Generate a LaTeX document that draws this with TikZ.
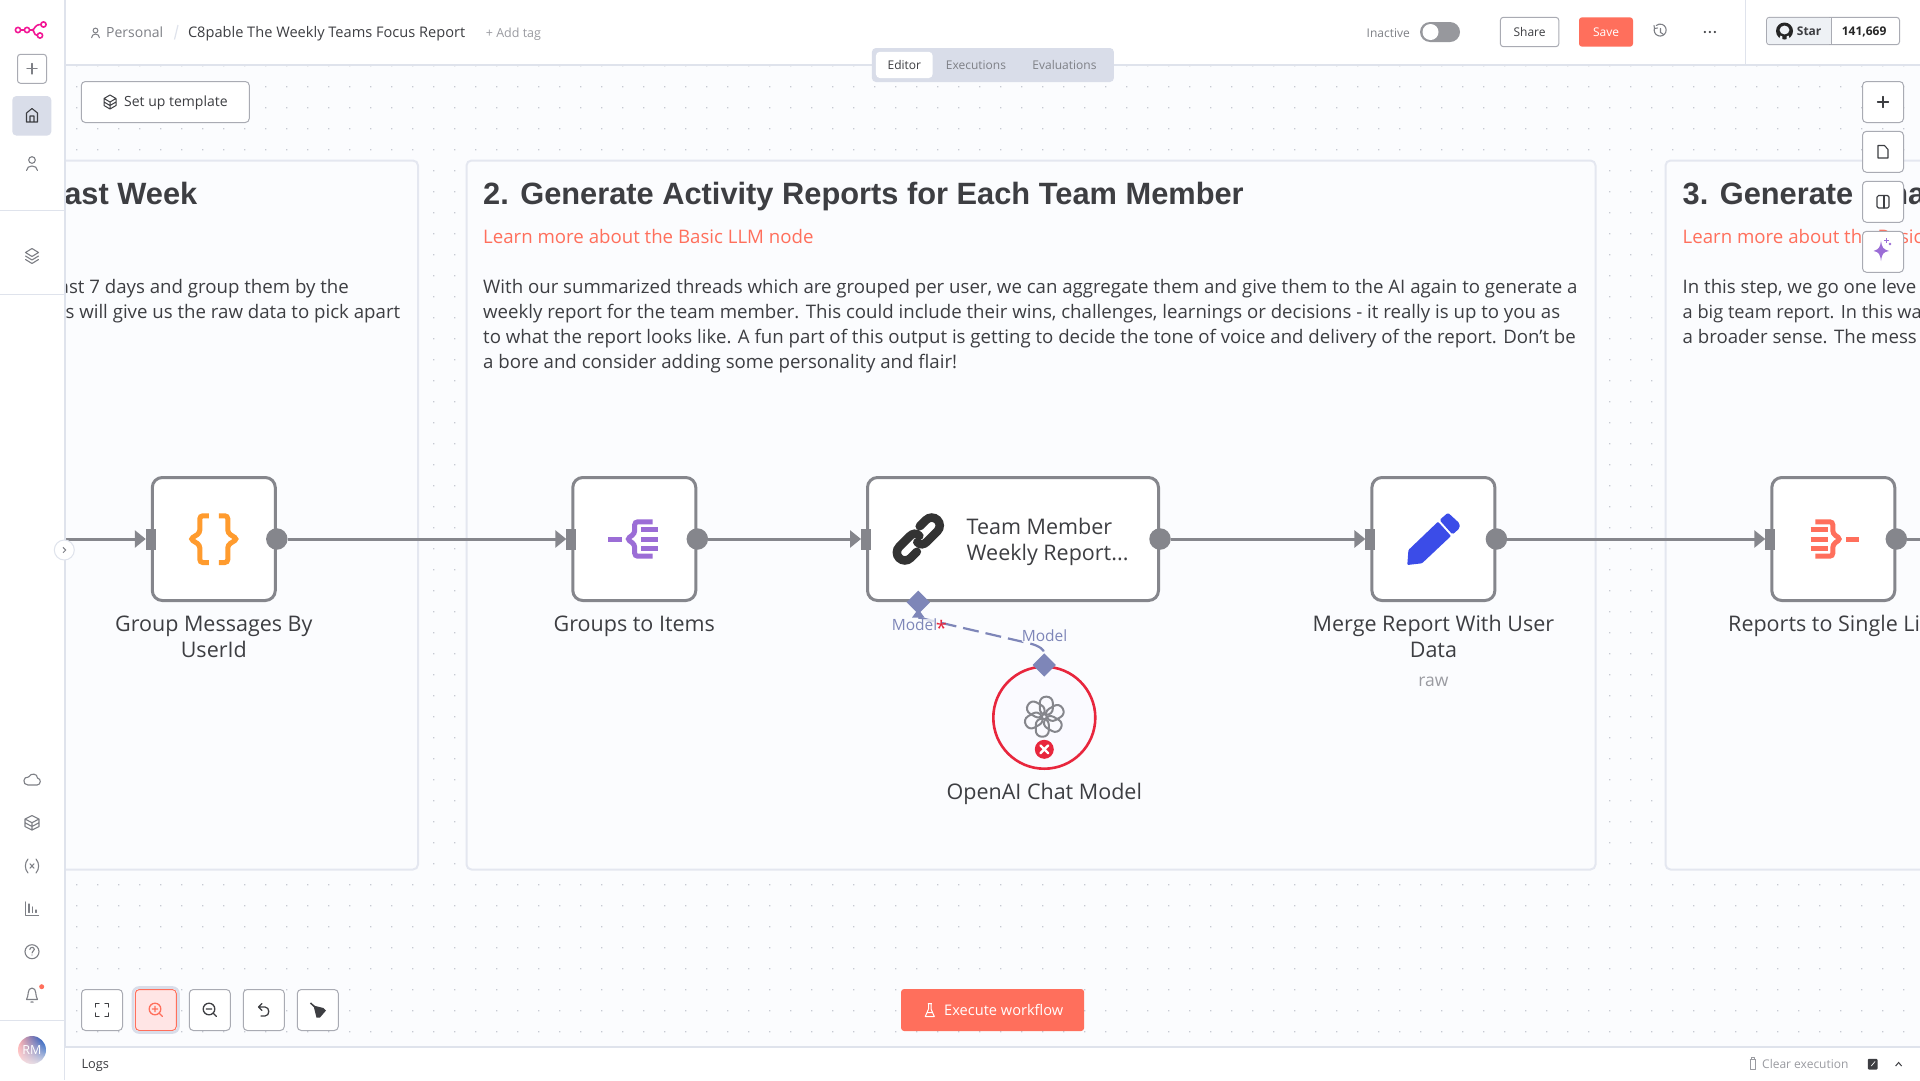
\documentclass[tikz,border=0pt]{standalone}
\usepackage{fontspec}
\setmainfont{Open Sans}
\newfontfamily\headfont{Liberation Sans}
\usetikzlibrary{arrows.meta,shapes.geometric,shadings}
\definecolor{canvascol}{HTML}{FBFCFE}
\definecolor{dotcol}{HTML}{C6C9D2}
\definecolor{framecol}{HTML}{DFE3EC}
\definecolor{cardline}{HTML}{E4E7F0}
\definecolor{inkcol}{HTML}{3D3E42}
\definecolor{softcol}{HTML}{7E8086}
\definecolor{faintcol}{HTML}{9A9BA1}
\definecolor{wirecol}{HTML}{85868C}
\definecolor{btnline}{HTML}{A9ABB3}
\definecolor{corecol}{HTML}{FF6F5C}
\definecolor{tabcol}{HTML}{D9DDE9}
\definecolor{modelcol}{HTML}{7E86B8}
\definecolor{errcol}{HTML}{E8263D}
\definecolor{bracecol}{HTML}{FF9B2E}
\definecolor{itemscol}{HTML}{9B6DD6}
\definecolor{pencol}{HTML}{3B4CE8}
\definecolor{starcol}{HTML}{EEF1F5}
\newcommand{\fsz}[1]{\fontsize{#1}{#1}\selectfont}
\tikzset{
  txt/.style={inner sep=0pt,text=inkcol},
  lowtxt/.style={yshift=-2pt},
  cardtitle/.style={txt,anchor=mid west,yshift=-9pt,font=\headfont\fsz{30.8}\bfseries},
  cardlink/.style={txt,anchor=mid west,yshift=-4.3pt,text=corecol,font=\fsz{18.65}},
  cardtext/.style={txt,anchor=mid west,yshift=-4.3pt,font=\fsz{18.65}},
  nodelabel/.style={txt,anchor=mid,yshift=-4.9pt,font=\fsz{21.5}},
  flowbox/.style={draw=wirecol,fill=white,line width=3pt,rounded corners=10pt,minimum width=123pt,minimum height=123pt,inner sep=0pt},
  outdot/.style={circle,fill=wirecol,minimum size=21.5pt,inner sep=0pt},
  inrect/.style={rectangle,fill=wirecol,minimum width=10pt,minimum height=21pt,inner sep=0pt,outer sep=0pt},
  wire/.style={draw=wirecol,line width=3pt,-{Triangle[length=11pt,width=17pt]}},
  modelmark/.style={diamond,fill=modelcol,minimum size=23.5pt,inner sep=0pt},
  modeltext/.style={txt,anchor=mid,yshift=-2.6pt,text=modelcol,font=\fsz{15.5},fill=canvascol,fill opacity=.75,text opacity=1},
  toolbtn/.style={draw=btnline,fill=white,line width=1pt,rounded corners=4pt,minimum width=41pt,minimum height=41pt,inner sep=0pt},
  topbtn/.style={draw=btnline,fill=white,line width=1pt,rounded corners=3pt,inner sep=0pt,text=inkcol,font=\fsz{12}},
  iconline/.style={draw=softcol,line width=1.1pt,line cap=round,line join=round},
}
\begin{document}
\begin{tikzpicture}[x=1pt,y=-1pt]
\useasboundingbox (0,0) rectangle (1920,1080);
\fill[white] (0,0) rectangle (1920,1080);
\fill[canvascol] (65,65) rectangle (1920,1047);

% canvas dots
\fill[dotcol] \foreach \i in {0,...,87}{ \foreach \j in {0,...,46}{
  (76.2+21*\i,65.2+21*\j) rectangle ++(1.1,1.1) } };

% cards
\foreach \a/\b in {20/418,466.5/1595.5,1665.5/1960}{
\filldraw[fill=canvascol,draw=cardline,line width=2pt,rounded corners=5pt] (\a,160.5) rectangle (\b,869.5);
}

\node[cardtitle,anchor=mid east] (titleleft) at (197.5,193) {ast Week};
\node[cardtext,anchor=mid east] (textleftone) at (349,286.5) {ast 7 days and group them by the};
\node[cardtext,anchor=mid east] (textlefttwo) at (400.4,311.5) {s will give us the raw data to pick apart};

\node[cardtitle] (titlemid) at (483,193) {2. Generate Activity Reports for Each Team Member};
\node[cardlink] (linkmid) at (483,237) {Learn more about the Basic LLM node};
\node[cardtext] (textmidone) at (483,286.5) {With our summarized threads which are grouped per user, we can aggregate them and give them to the AI again to generate a};
\node[cardtext] (textmidtwo) at (483,311.5) {weekly report for the team member. This could include their wins, challenges, learnings or decisions - it really is up to you as};
\node[cardtext] (textmidthree) at (483,336.5) {to what the report looks like. A fun part of this output is getting to decide the tone of voice and delivery of the report. Don’t be};
\node[cardtext] (textmidfour) at (483,361.5) {a bore and consider adding some personality and flair!};

\node[cardtitle] (titleright) at (1682.5,193) {3. Generate Fina};
\node[cardlink] (linkright) at (1682.5,237) {Learn more about the Basic};
\node[cardtext] (textrightone) at (1682.5,286.5) {In this step, we go one leve};
\node[cardtext,font=\fsz{18.2}] (textrighttwo) at (1682.5,311.5) {a big team report. In this wa};
\node[cardtext] (textrightthree) at (1682.5,336.5) {a broader sense. The mess};

% flow nodes
\node[flowbox] (groupnode) at (213.8,539) {};
\node[flowbox] (itemsnode) at (634.3,539) {};
\node[flowbox,minimum width=291pt] (teamnode) at (1013,539) {};
\node[flowbox] (mergenode) at (1433.4,539) {};
\node[flowbox] (singlenode) at (1833.3,539) {};

\foreach \n in {group,items,team,merge,single}{
\node[inrect] (\n in) at (\n node.west) {};
\node[outdot] (\n out) at (\n node.east) {};
}

\coordinate (leftfree) at (65,539);
\coordinate (rightfree) at (1920,539);
\draw[wire] (leftfree) -- (groupin.west);
\draw[wire] (groupout) -- (itemsin.west);
\draw[wire] (itemsout) -- (teamin.west);
\draw[wire] (teamout) -- (mergein.west);
\draw[wire] (mergeout) -- (singlein.west);
\draw[draw=wirecol,line width=3pt] (singleout) -- (rightfree);

\node[nodelabel] (grouplabel) at (213.8,624) {Group Messages By};
\node[nodelabel] (grouplabeltwo) at (213.8,650) {UserId};
\node[nodelabel] (itemslabel) at (634.3,624) {Groups to Items};
\node[nodelabel,anchor=mid west] (teamone) at (966.5,526.5) {Team Member};
\node[nodelabel,anchor=mid west] (teamtwo) at (966.5,552.5) {Weekly Report...};
\node[nodelabel] (mergelabel) at (1433.4,624) {Merge Report With User};
\node[nodelabel] (mergelabeltwo) at (1433.4,650) {Data};
\node[nodelabel,text=faintcol,font=\fsz{17.5}] (mergesub) at (1433.4,679) {raw};
\node[nodelabel,anchor=mid west] (singlelabel) at (1728,624) {Reports to Single Li};

% curly brace icon
\foreach \s in {-1,1}{
\draw[draw=bracecol,line width=5pt,rounded corners=3pt] (213.8+\s*5,515.8) -- (213.8+\s*14,515.8) -- (213.8+\s*14,533) -- (213.8+\s*23.5,539) -- (213.8+\s*14,545) -- (213.8+\s*14,562.5) -- (213.8+\s*5,562.5);
}
% items icon
\draw[itemscol,line width=5pt] (608.3,539) -- (622,539);
\draw[itemscol,line width=5pt,rounded corners=3pt] (652.7,521.8) -- (634.7,521.8) -- (634.7,533.5) -- (627,539) -- (634.7,544.5) -- (634.7,556.2) -- (652.7,556.2);
\foreach \y in {529,539,548.8}{ \draw[itemscol,line width=5pt] (641,\y) -- (657.7,\y); }
% list icon
\draw[corecol,line width=5pt] (1846,539) -- (1859,539);
\draw[corecol,line width=5pt,rounded corners=3pt] (1815.4,521.8) -- (1832.8,521.8) -- (1832.8,533.5) -- (1840.5,539) -- (1832.8,544.5) -- (1832.8,556.2) -- (1815.4,556.2);
\foreach \y in {529,539,548.8}{ \draw[corecol,line width=5pt] (1810.6,\y) -- (1827.6,\y); }
% pen icon
\fill[pencol,rounded corners=1pt] (1407.3,565) -- (1408.4,550) -- (1438,521.7) -- (1451,536) -- (1422,563.3) -- cycle;
\fill[pencol,rounded corners=1.5pt] (1439.5,520) -- (1448,512.7) -- (1459.5,523.3) -- (1459.5,528.3) -- (1452.5,534.5) -- cycle;
% link icon
\begin{scope}[shift={(918.3,539)},rotate=45]
\foreach \r in {0,180}{
\draw[rotate=\r,draw=black!80,line width=8.5pt,line cap=round] (-3,1.5) .. controls (-3,6) and (0,8) .. (4,8) -- (19,8) arc[start angle=90,end angle=-90,radius=8] -- (10,-8);
}
\end{scope}

% model connection
\node[modelmark] (modelport) at (918.3,602.3) {};
\fill[modelcol] (918.3,609) -- (924.5,617.5) -- (912,617.5) -- cycle;
\coordinate (modelbase) at (918.3,617.5);
\coordinate (modelbend) at (1030,643.5);
\node[circle,draw=errcol,fill=black!7!blue!2!white,line width=2.6pt,minimum size=102pt,inner sep=0pt] (openainode) at (1044.3,717.7) {};
\node[modelmark] (openaiport) at (1044.3,665) {};
\draw[modelcol,line width=2.2pt,dash pattern=on 16pt off 7pt] (modelbase) -- (modelbend) .. controls (1040,646) and (1044,650) .. (openaiport.north);
\node[modeltext] (modelleft) at (914.5,625.5) {Model};
\node[txt,text=errcol,font=\fsz{20}] (modelstar) at (941.5,628) {*};
\node[modeltext] (modelright) at (1044.5,636.5) {Model};
\foreach \r in {0,60,...,300}{
\draw[wirecol,line width=2pt,shift={(1044.3,716.7)},rotate=\r,rounded corners=6pt] (-4.5,-20) rectangle (8.5,-2);
}
\node[circle,fill=errcol,minimum size=19pt,inner sep=0pt] (errbadge) at (1044.3,749.3) {};
\draw[white,line width=2.4pt,line cap=round] (1040.4,745.4) -- (1048.2,753.2) (1048.2,745.4) -- (1040.4,753.2);
\node[nodelabel] (openailabel) at (1044.3,791.7) {OpenAI Chat Model};

% header
\fill[white] (0,0) rectangle (1920,65);
\draw[framecol,line width=1.2pt] (65,65) -- (872,65) (1114,65) -- (1920,65);
\draw[framecol,line width=1.2pt] (1745.7,0) -- (1745.7,65);
\draw[softcol,line width=1pt] (95.5,30.5) circle[radius=2.4];
\draw[softcol,line width=1pt] (91.5,38) arc[start angle=180,end angle=360,radius=4] ;
\node[txt,lowtxt,anchor=mid west,text=softcol,font=\fsz{14}] (crumbone) at (106,33) {Personal};
\draw[framecol,line width=1.2pt] (174.5,39.5) -- (178,25);
\node[txt,lowtxt,anchor=mid west,font=\fsz{14.6}] (crumbtwo) at (187.8,33) {C8pable The Weekly Teams Focus Report};
\node[txt,lowtxt,anchor=mid west,text=faintcol,font=\fsz{12.5}] (addtag) at (485.7,33) {+ Add tag};

\node[draw=btnline,fill=white,line width=1pt,rounded corners=4pt,minimum width=168pt,minimum height=41pt,inner sep=0pt] (templatebtn) at (165.3,102) {};
\node[txt,lowtxt,anchor=mid west,font=\fsz{14}] (templatetext) at (124,102) {Set up template};
\draw[inkcol,line width=1pt,line join=round] (110,95) -- (116,98.5) -- (116,105.5) -- (110,109) -- (104,105.5) -- (104,98.5) -- cycle (104,98.5) -- (110,102) -- (116,98.5) (110,102) -- (110,109) (104,102) -- (110,105.5) -- (116,102);

\node[rectangle,fill=tabcol,rounded corners=4pt,minimum width=242pt,minimum height=34pt,inner sep=0pt] (tabbar) at (992.9,65) {};
\node[rectangle,fill=white,rounded corners=4pt,minimum width=56.7pt,minimum height=26.3pt,inner sep=0pt] (tabeditor) at (904.3,64.9) {};
\node[txt,font=\fsz{12}] (editortext) at (904.3,65) {Editor};
\node[txt,text=softcol,font=\fsz{12}] (execttext) at (976,65) {Executions};
\node[txt,text=softcol,font=\fsz{12}] (evaltext) at (1064.5,65) {Evaluations};

\node[txt,lowtxt,anchor=mid west,text=softcol,font=\fsz{12}] (inactivetext) at (1366.5,32.7) {Inactive};
\fill[wirecol!85!white,rounded corners=10pt] (1420,22) rectangle (1460,42);
\fill[white] (1430.5,32) circle[radius=8];

\node[topbtn,minimum width=58.4pt,minimum height=29.4pt] (sharebtn) at (1529.6,32) {Share};
\node[rectangle,fill=corecol,rounded corners=3pt,minimum width=54pt,minimum height=29.4pt,inner sep=0pt,text=white,font=\fsz{12}] (savebtn) at (1606,32) {Save};

% history and more icons
\draw[softcol,line width=1.1pt,line cap=round] (1654.5,28) arc[start angle=200,end angle=-130,radius=6] (1654,25.5) -- (1654.5,28.5) -- (1657.5,28) (1660.5,28.5) -- (1660.5,32.5) -- (1663,34);
\foreach \d in {-5,0,5}{ \fill[inkcol] (1709.8+\d,32) circle[radius=1.2]; }

\node[topbtn,minimum width=133pt,minimum height=27.4pt] (starbox) at (1833,31) {};
\fill[starcol,rounded corners=3pt] (1767,17.8) -- (1831.4,17.8) -- (1831.4,44.2) -- (1767,44.2) -- cycle;
\draw[btnline,line width=.8pt] (1831.4,17.3) -- (1831.4,44.7);
\fill[black!85] (1784.5,31) circle[radius=8.5];
\fill[starcol] (1784.5,30) ellipse[x radius=4.9,y radius=4.4];
\fill[starcol] (1779,39.8) -- (1780.5,35.5) -- (1782.4,36.5) -- (1782.4,39.8) -- cycle (1786.6,39.8) -- (1786.6,36.5) -- (1788.5,35.5) -- (1790,39.8) -- cycle;
\node[txt,lowtxt,anchor=mid west,font=\fsz{12}\bfseries] (startext) at (1796.7,31) {Star};
\node[txt,lowtxt,anchor=mid west,font=\fsz{12}\bfseries,text=black!85] (starcount) at (1841.6,31) {141,669};

% right rail
\node[toolbtn] (railone) at (1883,102) {};
\node[toolbtn] (railtwo) at (1883,151.8) {};
\node[toolbtn] (railthree) at (1883,201.8) {};
\node[toolbtn] (railfour) at (1883,251.8) {};
\draw[iconline,draw=inkcol] (1883,96.5) -- (1883,107.5) (1877.5,102) -- (1888.5,102);
\draw[iconline,draw=inkcol] (1878,145.5) -- (1884.5,145.5) -- (1888,149.5) -- (1888,158) -- (1878,158) -- cycle;
\draw[iconline,draw=inkcol,rounded corners=1.5pt] (1877,195.5) rectangle (1889,208);
\draw[iconline,draw=inkcol] (1884,195.5) -- (1884,208);
\fill[itemscol] (1881,240.5) .. controls (1882,248) and (1883,249) .. (1889,251) .. controls (1883,252) and (1882,254) .. (1881,261) .. controls (1880,254) and (1879,252) .. (1873.5,251) .. controls (1879,249) and (1880,248) .. (1881,240.5);
\fill[itemscol] (1890,244) circle[radius=1.3];
\draw[itemscol,line width=.8pt] (1886.5,238) -- (1886.5,242.5) (1884.3,240.2) -- (1888.7,240.2);

% sidebar
\fill[white] (0,0) rectangle (65,1080);
\draw[framecol,line width=1.2pt] (65,0) -- (65,1080);
\draw[framecol,line width=1pt] (0,210.3) -- (65,210.3) (0,294.3) -- (65,294.3) (0,1020.7) -- (65,1020.7);
\fill[white] (65,1047.5) rectangle (1920,1080);
\draw[framecol,line width=1.2pt] (65,1047) -- (1920,1047);

\draw[errcol!55!magenta,line width=1.6pt] (18,30) circle[radius=2.6] (27,30) circle[radius=2.6] (40,35.5) circle[radius=2.6] (43.5,24.5) circle[radius=2.6];
\draw[errcol!55!magenta,line width=1.6pt] (20.6,30) -- (24.4,30) (29.6,30) -- (32,30) (37.4,35.5) .. controls (33,35) and (35,30) .. (32,30) .. controls (35,30) and (34,24.5) .. (40.9,24.5);

\node[draw=btnline,fill=white,line width=1pt,rounded corners=3pt,minimum size=29pt,inner sep=0pt] (newbtn) at (32,68.8) {};
\draw[iconline] (32,63.5) -- (32,74) (26.8,68.8) -- (37.2,68.8);
\node[rectangle,fill=tabcol,rounded corners=4pt,minimum width=39pt,minimum height=39.5pt,inner sep=0pt] (homebtn) at (31.8,115.8) {};
\draw[iconline,draw=inkcol] (26.5,122) -- (26.5,113) -- (32,108.5) -- (37.5,113) -- (37.5,122) -- cycle (30,122) -- (30,116) -- (34,116) -- (34,122);
\draw[iconline] (32,160) circle[radius=3.3] (26.5,170.5) .. controls (26.5,164.5) and (37.5,164.5) .. (37.5,170.5);
\draw[iconline] (32,248.5) -- (38.5,252.5) -- (32,256.5) -- (25.5,252.5) -- cycle (25.5,256) -- (32,260) -- (38.5,256) (25.5,259.5) -- (32,263.5) -- (38.5,259.5);

\draw[iconline] (28,785) .. controls (22,785) and (23,776) .. (28.5,777) .. controls (31,772.5) and (37.5,773.5) .. (37.5,778) .. controls (41.5,778.5) and (41,785) .. (37,785) -- cycle;
\draw[iconline] (32,815.5) -- (39,819) -- (39,826.5) -- (32,830) -- (25,826.5) -- (25,819) -- cycle (25,819) -- (32,822.7) -- (39,819) (32,822.7) -- (32,830) (25,822.7) -- (32,826.5) -- (39,822.7);
\draw[iconline] (28,859) .. controls (24.5,863) and (24.5,869) .. (28,873) (36,859) .. controls (39.5,863) and (39.5,869) .. (36,873) (30,863.8) -- (34,868.2) (34,863.8) -- (30,868.2);
\draw[iconline] (25.5,902) -- (25.5,915.5) -- (38.5,915.5) (29,904) -- (29,912.5) (32.5,907) -- (32.5,912.5) (36,910) -- (36,912.5);
\draw[iconline] (32,951.7) circle[radius=7];
\draw[iconline] (29.8,949.5) .. controls (30,946.5) and (34.5,946.8) .. (34.3,949.5) .. controls (34.2,951) and (32,951) .. (32,953);
\fill[softcol] (32,955) circle[radius=.7];
\draw[iconline] (26.5,999.5) .. controls (29,996) and (27,988) .. (32,988) .. controls (37,988) and (35,996) .. (37.5,999.5) -- cycle (30.8,1002) -- (33.2,1002);
\fill[corecol] (41.7,986.7) circle[radius=2.5];

\shade[upper right=blue!60!cyan!75!black,upper left=red!35!white,lower left=red!12!white,lower right=tabcol] (32,1050) circle[radius=14];
\node[txt,text=white,font=\fsz{12.5}] (avatartext) at (32,1050) {RM};

% collapse handle
\node[circle,draw=framecol,fill=white,line width=1pt,minimum size=20pt,inner sep=0pt] (handle) at (64.3,550) {};
\draw[softcol,line width=1pt] (63,547.3) -- (65.7,550) -- (63,552.7);

% bottom tools
\node[toolbtn] (fitbtn) at (102,1010) {};
\node[toolbtn,draw=corecol,fill=red!10!white] (zoominbtn) at (155.8,1010) {};
\draw[tabcol,line width=2.6pt,rounded corners=6pt] (133,987.5) rectangle (178.5,1032.5);
\node[toolbtn] (zoomoutbtn) at (209.8,1010) {};
\node[toolbtn] (undobtn) at (263.8,1010) {};
\node[toolbtn] (brushbtn) at (317.8,1010) {};
\draw[iconline,draw=inkcol,line width=1.3pt] (95.5,1007) -- (95.5,1003.5) -- (99,1003.5) (105,1003.5) -- (108.5,1003.5) -- (108.5,1007) (108.5,1013) -- (108.5,1016.5) -- (105,1016.5) (99,1016.5) -- (95.5,1016.5) -- (95.5,1013);
\draw[iconline,draw=corecol,line width=1.3pt] (155,1009) circle[radius=5.8] (159.5,1013.5) -- (162.5,1016.5) (155,1006.3) -- (155,1011.7) (152.3,1009) -- (157.7,1009);
\draw[iconline,draw=inkcol,line width=1.3pt] (209,1009) circle[radius=5.8] (213.5,1013.5) -- (216.5,1016.5) (206.3,1009) -- (211.7,1009);
\draw[iconline,draw=inkcol,line width=1.3pt] (262,1003.5) -- (258.5,1007) -- (262,1010.5) (258.5,1007) -- (265,1007) .. controls (270,1007) and (270,1016) .. (265,1016) -- (261,1016);
\draw[inkcol,line width=1.5pt] (310.5,1003) -- (316,1008);
\fill[inkcol] (313.5,1005.5) -- (323.5,1008) -- (326,1010.5) -- (320,1017.5) -- (316.5,1017.5) -- cycle;

\node[rectangle,fill=corecol,rounded corners=3pt,minimum width=183pt,minimum height=42pt,inner sep=0pt] (runbtn) at (992.6,1010) {};
\node[txt,lowtxt,anchor=mid west,text=white,font=\fsz{14.6}] (runtext) at (944,1010.5) {Execute workflow};
\draw[white,line width=1pt,line join=round] (927.8,1003.5) -- (931.8,1003.5) (928.5,1003.5) -- (928.5,1009) -- (925.3,1016.5) -- (934.3,1016.5) -- (931,1009) -- (931,1003.5) (926.8,1012.5) -- (932.8,1012.5);

% logs bar
\node[txt,lowtxt,anchor=mid west,font=\fsz{12.8}] (logstext) at (81.3,1064) {Logs};
\node[txt,lowtxt,anchor=mid west,text=faintcol,font=\fsz{12}] (cleartext) at (1762,1064) {Clear execution};
\draw[faintcol,line width=.9pt,line join=round] (1749.5,1059.5) -- (1756,1059.5) (1750.3,1059.5) -- (1750.3,1069.5) -- (1755.2,1069.5) -- (1755.2,1059.5) (1751.5,1059.5) -- (1751.5,1057.8) -- (1754,1057.8) -- (1754,1059.5);
\fill[inkcol,rounded corners=1pt] (1867.8,1058.8) rectangle (1877.5,1069.5);
\draw[white,line width=.7pt] (1871.3,1066) -- (1875,1061.5);
\draw[inkcol,line width=1pt] (1895.6,1066) -- (1898.6,1062.5) -- (1901.6,1066);
\end{tikzpicture}
\end{document}
